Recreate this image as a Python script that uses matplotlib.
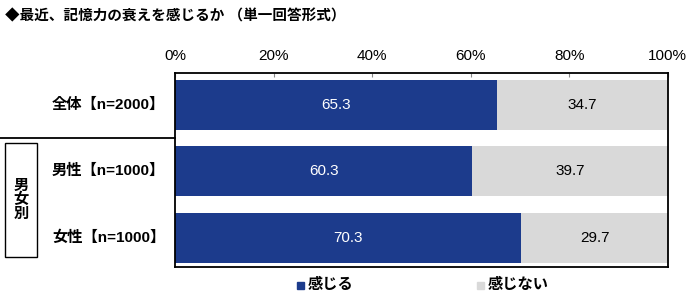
import matplotlib.pyplot as plt
from matplotlib.patches import Rectangle

plt.rcParams['font.family'] = ['Liberation Sans', 'Noto Sans CJK JP']

categories = ['全体【n=2000】', '男性【n=1000】', '女性【n=1000】']
feel = [65.3, 60.3, 70.3]
not_feel = [34.7, 39.7, 29.7]
series_names = ['感じる', '感じない']
ticks = [0, 20, 40, 60, 80, 100]
tick_labels = ['0%', '20%', '40%', '60%', '80%', '100%']

blue = '#1c3b8c'
gray = '#d9d9d9'

fig = plt.figure(figsize=(7, 3.01), dpi=100)
ax = fig.add_axes([0.25, 0.113, 0.704, 0.645])

y = list(range(len(categories)))
ax.barh(y, feel, height=0.75, color=blue)
ax.barh(y, not_feel, left=feel, height=0.75, color=gray)
for i in y:
    ax.text(feel[i] / 2, i, f'{feel[i]:.1f}', color='white', ha='center', va='center', fontsize=11)
    ax.text(feel[i] + not_feel[i] / 2, i, f'{not_feel[i]:.1f}', color='black', ha='center', va='center', fontsize=11)
    ax.text(-0.02, i, categories[i], transform=ax.get_yaxis_transform(), ha='right', va='center',
            fontsize=11, fontweight='bold')

ax.set_xlim(0, 100)
ax.set_ylim(2.44, -0.48)
ax.set_xticks(ticks)
ax.set_xticklabels(tick_labels, fontsize=11)
ax.xaxis.tick_top()
ax.tick_params(axis='x', direction='in', length=3, pad=7, color='#888888')
ax.set_yticks([])
for s in ax.spines.values():
    s.set_linewidth(1.3)
    s.set_color('black')

# separator and group box
fig.add_artist(plt.Line2D([0, 0.25], [1 - 138 / 301, 1 - 138 / 301], color='black', lw=1.3))
fig.add_artist(Rectangle((5 / 700, 1 - 257 / 301), 32 / 700, 114 / 301, fill=False, ec='black', lw=1))
fig.text(21 / 700, 1 - 200 / 301, '男\n女\n別', ha='center', va='center', fontsize=11,
         fontweight='bold', linespacing=1.0)

fig.text(5 / 700, 1 - 16 / 301, '◆最近、記憶力の衰えを感じるか （単一回答形式）', ha='left', va='center',
         fontsize=10.5, fontweight='bold')

# legend
for x0, name, c in [(297, series_names[0], blue), (477, series_names[1], gray)]:
    fig.add_artist(Rectangle((x0 / 700, 1 - 289 / 301), 7 / 700, 7 / 301, color=c))
    fig.text((x0 + 11) / 700, 1 - 285 / 301, name, ha='left', va='center', fontsize=11, fontweight='bold')

fig.savefig('out.png', dpi=100)
